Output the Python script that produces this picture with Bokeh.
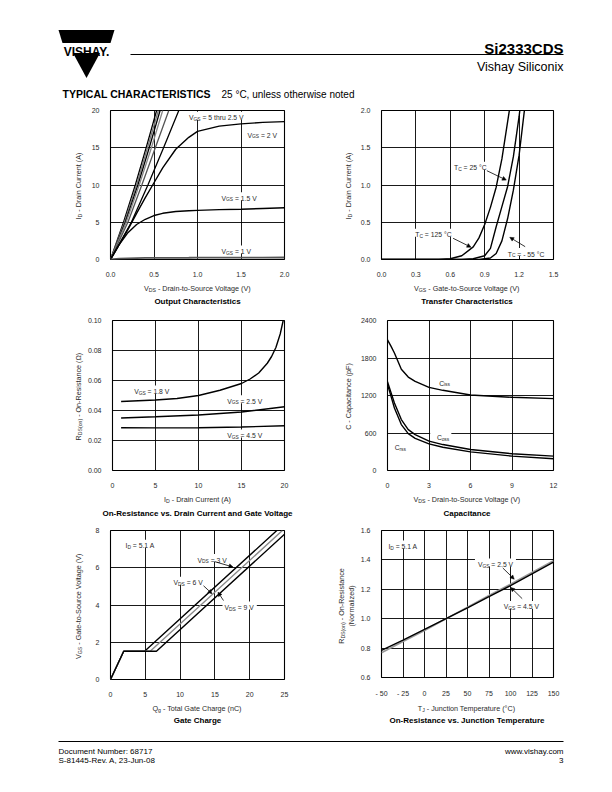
import re
from math import pi
from bokeh.plotting import figure
from bokeh.models import Range1d, Label, Arrow, NormalHead, FixedTicker, BoxAnnotation
from bokeh.layouts import column, row
from bokeh.embed import file_html
from bokeh.resources import INLINE

FONT = "Liberation Sans"
TXT = "#2a2a2a"

# ------------------------------------------------------------------ data
# 1. Output characteristics: V_DS (V) at the listed I_D (A)
oc_id_lin = [0, 5, 10, 15, 20]
oc_vds_5v0 = [0, 0.15, 0.285, 0.41, 0.53]
oc_vds_4v5 = [0, 0.16, 0.30, 0.425, 0.55]
oc_vds_4v0 = [0, 0.17, 0.315, 0.445, 0.57]
oc_vds_3v5 = [0, 0.18, 0.33, 0.47, 0.60]
oc_vds_3v0 = [0, 0.20, 0.36, 0.515, 0.67]
oc_vds_2v5 = [0, 0.24, 0.43, 0.61, 0.785]
oc_vds = [0, 0.1, 0.2, 0.3, 0.4, 0.5, 0.6, 0.75, 0.9, 1.0, 1.25, 1.5, 1.75, 2.0]
oc_id_2v0 = [0, 2.0, 4.0, 6.2, 8.3, 10.3, 12.3, 14.8, 16.4, 17.2, 17.9, 18.2, 18.4, 18.5]
oc_id_1v5 = [0, 2.0, 3.6, 4.7, 5.4, 5.9, 6.2, 6.45, 6.55, 6.6, 6.7, 6.75, 6.85, 6.95]
oc_id_1v0 = [0, 0.12, 0.16, 0.19, 0.21, 0.22, 0.225, 0.23, 0.235, 0.24, 0.25, 0.26, 0.265, 0.27]
oc_x_ticks = [0.0, 0.5, 1.0, 1.5, 2.0]
oc_x_labels = ["0.0", "0.5", "1.0", "1.5", "2.0"]
oc_y_ticks = [0, 5, 10, 15, 20]
oc_y_labels = ["0", "5", "10", "15", "20"]

# 2. Transfer characteristics: I_D (A) vs V_GS (V)
tc_vgs_125 = [0.0, 0.5, 0.6, 0.7, 0.8, 0.85, 0.9, 0.95, 1.0, 1.05, 1.1, 1.12]
tc_id_125 = [0.0, 0.0, 0.01, 0.05, 0.17, 0.29, 0.47, 0.7, 0.97, 1.35, 1.85, 2.05]
tc_vgs_25 = [0.0, 0.7, 0.8, 0.9, 0.95, 1.0, 1.05, 1.1, 1.15, 1.2, 1.21]
tc_id_25 = [0.0, 0.0, 0.01, 0.05, 0.15, 0.44, 0.71, 0.98, 1.38, 1.92, 2.05]
tc_vgs_m55 = [0.0, 0.85, 0.95, 1.0, 1.05, 1.1, 1.15, 1.2, 1.25]
tc_id_m55 = [0.0, 0.0, 0.02, 0.08, 0.25, 0.55, 0.93, 1.4, 2.05]
tc_x_ticks = [0.0, 0.3, 0.6, 0.9, 1.2, 1.5]
tc_x_labels = ["0.0", "0.3", "0.6", "0.9", "1.2", "1.5"]
tc_y_ticks = [0.0, 0.5, 1.0, 1.5, 2.0]
tc_y_labels = ["0.0", "0.5", "1.0", "1.5", "2.0"]

# 3. On-resistance vs drain current
ron_id_1v8 = [1, 3, 5, 7.5, 10, 12.5, 15, 16, 17, 18, 18.5, 19, 19.5, 19.85]
ron_1v8 = [0.046, 0.0465, 0.047, 0.048, 0.050, 0.0535, 0.058, 0.061, 0.065, 0.0715, 0.076, 0.082, 0.091, 0.1]
ron_id = [1, 5, 10, 15, 20]
ron_2v5 = [0.035, 0.0358, 0.037, 0.039, 0.0425]
ron_4v5 = [0.0285, 0.0284, 0.0285, 0.029, 0.0298]
ron_x_ticks = [0, 5, 10, 15, 20]
ron_x_labels = ["0", "5", "10", "15", "20"]
ron_y_ticks = [0.0, 0.02, 0.04, 0.06, 0.08, 0.1]
ron_y_labels = ["0.00", "0.02", "0.04", "0.06", "0.08", "0.10"]

# 4. Capacitance (pF) vs V_DS (V)
cap_vds = [0, 0.25, 0.5, 1, 1.5, 2, 3, 4, 6, 9, 12]
cap_ciss = [2090, 1990, 1880, 1620, 1495, 1425, 1330, 1283, 1208, 1171, 1150]
cap_coss = [1420, 1250, 1080, 815, 655, 575, 470, 415, 335, 268, 230]
cap_crss = [1375, 1190, 1000, 735, 590, 515, 425, 372, 298, 230, 188]
cap_x_ticks = [0, 3, 6, 9, 12]
cap_x_labels = ["0", "3", "6", "9", "12"]
cap_y_ticks = [0, 600, 1200, 1800, 2400]
cap_y_labels = ["0", "600", "1200", "1800", "2400"]

# 5. Gate charge: V_GS (V) vs Q_g (nC)
gc_qg_3v = [0, 1.9, 4.9, 23.9]
gc_vgs_3v = [0, 1.52, 1.52, 8.0]
gc_qg_6v = [0, 1.9, 5.7, 24.7]
gc_vgs_6v = [0, 1.52, 1.52, 8.0]
gc_qg_9v = [0, 1.9, 6.6, 25.0]
gc_vgs_9v = [0, 1.52, 1.52, 7.8]
gc_x_ticks = [0, 5, 10, 15, 20, 25]
gc_x_labels = ["0", "5", "10", "15", "20", "25"]
gc_y_ticks = [0, 2, 4, 6, 8]
gc_y_labels = ["0", "2", "4", "6", "8"]

# 6. Normalized on-resistance vs junction temperature
rt_tj = [-50, -25, 0, 25, 50, 75, 100, 125, 150]
rt_4v5 = [0.785, 0.855, 0.927, 1.0, 1.073, 1.15, 1.225, 1.305, 1.385]
rt_2v5 = [0.768, 0.845, 0.92, 1.0, 1.078, 1.158, 1.235, 1.315, 1.395]
rt_x_ticks = [-50, -25, 0, 25, 50, 75, 100, 125, 150]
rt_x_labels = ["- 50", "- 25", "0", "25", "50", "75", "100", "125", "150"]
rt_y_ticks = [0.6, 0.8, 1.0, 1.2, 1.4, 1.6]
rt_y_labels = ["0.6", "0.8", "1.0", "1.2", "1.4", "1.6"]

# ------------------------------------------------------------------ text helpers
W = {' ': 278, '!': 278, '(': 333, ')': 333, ',': 278, '-': 333, '.': 278, '/': 278,
     ':': 278, '=': 584, '°': 400, 'Ω': 768}
for c in "0123456789":
    W[c] = 556
W.update(dict(zip("ABCDEFGHIJKLMNOPQRSTUVWXYZ",
                  [667, 667, 722, 722, 667, 611, 778, 722, 278, 500, 667, 556, 833,
                   722, 778, 667, 778, 722, 667, 611, 722, 667, 944, 667, 667, 611])))
W.update(dict(zip("abcdefghijklmnopqrstuvwxyz",
                  [556, 556, 500, 556, 556, 278, 556, 556, 222, 222, 500, 222, 833,
                   556, 556, 556, 556, 333, 500, 278, 556, 500, 722, 500, 500, 500])))


def tw(s, size):
    return sum(W.get(c, 556) for c in s) * size / 1000.0


def to_data(S, X, Y):
    (fx0, fy0, fx1, fy1), (xa, xb), (ya, yb) = S
    return (xa + (X - fx0) / (fx1 - fx0) * (xb - xa),
            ya + (fy1 - Y) / (fy1 - fy0) * (yb - ya))


def add_text(p, S, X, Y, text, size, align="left", angle=0.0, bold=False,
             bg=False, color=TXT, pad=(1.5, 1.5)):
    toks = re.split(r"_\{([^}]*)\}", text)
    parts = [(t, i % 2 == 1) for i, t in enumerate(toks) if t]
    base = 0.358 * size
    common = dict(text_font=FONT, text_color=color, text_baseline="alphabetic",
                  angle=angle, text_font_style="bold" if bold else "normal")
    sub_k = 0.72
    widths = [tw(t, size * (sub_k if sb else 1)) for t, sb in parts]
    total = sum(widths)
    start = {"left": 0.0, "center": -total / 2, "right": -total}[align]
    if bg and not angle:
        l, b = to_data(S, X + start - pad[0], Y + base + 0.3 * size)
        r, t = to_data(S, X + start + total + pad[1], Y - base - 1.2)
        p.add_layout(BoxAnnotation(left=l, right=r, bottom=b, top=t, fill_color="white",
                                   fill_alpha=1.0, line_alpha=0.0))
    if len(parts) == 1 and not parts[0][1]:
        if angle:
            x, y = to_data(S, X + base, Y)
        else:
            x, y = to_data(S, X, Y + base)
        p.add_layout(Label(x=x, y=y, text=text, text_align=align,
                           text_font_size=f"{size}px", **common))
        return
    pos = start
    for (t, sb), w in zip(parts, widths):
        fs = size * sub_k if sb else size
        lead = len(t) - len(t.lstrip(" "))
        st = t.strip(" ")
        if st:
            off = pos + tw(" " * lead, fs)
            drop = 0.24 * size if sb else 0.0
            if angle:
                x, y = to_data(S, X + base + drop, Y - off)
            else:
                x, y = to_data(S, X + off, Y + base + drop)
            p.add_layout(Label(x=x, y=y, text=st, text_align="left",
                               text_font_size=f"{fs:.2f}px", **common))
        pos += w


def add_arrow(p, S, X0, Y0, X1, Y1):
    x0, y0 = to_data(S, X0, Y0)
    x1, y1 = to_data(S, X1, Y1)
    p.add_layout(Arrow(end=NormalHead(size=4, fill_color="black", line_color="black",
                                      line_width=0.5),
                       x_start=x0, y_start=y0, x_end=x1, y_end=y1,
                       line_color="black", line_width=0.8))


def block_fig(x0, y0, x1, y1):
    """Plain drawing area whose data coordinates are page pixels."""
    p = figure(width=x1 - x0, height=y1 - y0, x_range=Range1d(x0, x1), y_range=Range1d(y1, y0),
               output_backend="svg", toolbar_location=None, x_axis_type=None,
               y_axis_type=None, min_border=0, frame_align=False)
    p.outline_line_color = None
    p.background_fill_color = "white"
    p.border_fill_color = "white"
    return p, ((x0, y0, x1, y1), (x0, x1), (y1, y0))


def make_chart(box, frame, xr, yr, xt, xl, yt, yl):
    bx0, by0, bx1, by1 = box
    fx0, fy0, fx1, fy1 = frame
    p = figure(width=bx1 - bx0, height=by1 - by0, x_range=Range1d(*xr), y_range=Range1d(*yr),
               output_backend="svg", toolbar_location=None, frame_align=False,
               min_border_left=fx0 - bx0, min_border_right=bx1 - fx1,
               min_border_top=fy0 - by0, min_border_bottom=by1 - fy1)
    p.background_fill_color = "white"
    p.border_fill_color = "white"
    p.outline_line_color = "black"
    p.outline_line_width = 1.1
    p.xaxis.ticker = FixedTicker(ticks=xt)
    p.yaxis.ticker = FixedTicker(ticks=yt)
    p.xgrid.ticker = FixedTicker(ticks=xt)
    p.ygrid.ticker = FixedTicker(ticks=yt)
    p.xaxis.major_label_overrides = {t: l for t, l in zip(xt, xl)}
    p.yaxis.major_label_overrides = {t: l for t, l in zip(yt, yl)}
    for ax in p.axis:
        ax.major_tick_line_color = None
        ax.minor_tick_line_color = None
        ax.axis_line_color = None
        ax.major_label_text_font = FONT
        ax.major_label_text_font_size = "7px"
        ax.major_label_text_color = TXT
    p.xaxis.major_label_standoff = 6
    p.yaxis.major_label_standoff = 5
    p.grid.grid_line_color = "black"
    p.grid.grid_line_width = 0.9
    return p, (frame, xr, yr)


ROW_TOPS = [100, 310, 520]
FRAME_H = [151, 152, 151]
CHART_H = [179, 180, 179]


def chart_block(side, r, xr, yr, xt, xl, yt, yl):
    top = ROW_TOPS[r]
    if side == "L":
        ax0, cx0, cx1, fx0, fx1 = 0, 84, 306, 110, 284
    else:
        ax0, cx0, cx1, fx0, fx1 = 306, 357, 612, 380, 553
    fy0 = top + 10
    fy1 = fy0 + FRAME_H[r]
    ylab = block_fig(ax0, top, cx0, top + 210)
    chart = make_chart((cx0, top, cx1, top + CHART_H[r]), (fx0, fy0, fx1, fy1),
                       xr, yr, xt, xl, yt, yl)
    cap = block_fig(cx0, top + CHART_H[r], cx1, top + 210)
    lay = row(ylab[0], column(chart[0], cap[0]))
    return lay, chart, ylab, cap


CURVE = dict(line_color="black", line_width=1.4)

# ------------------------------------------------------------------ header
hdr, HS = block_fig(0, 0, 612, 100)
hdr.patch([58, 114, 110, 62], [29.5, 29.5, 42.5, 42.5], fill_color="black", line_color=None)
hdr.patch([72.5, 99.5, 86], [52.5, 52.5, 77.5], fill_color="black", line_color=None)
add_text(hdr, HS, 86, 47.5, "VISHAY.", 12, "center", bold=True, color="black")
hdr.line([130, 563], [54, 54], line_color="black", line_width=1.2)
add_text(hdr, HS, 563, 42.5, "Si2333CDS", 15, "right", bold=True, color="black")
add_text(hdr, HS, 563, 62.5, "Vishay Siliconix", 12.5, "right", color="black")
add_text(hdr, HS, 62, 90, "TYPICAL CHARACTERISTICS", 10.5, "left", bold=True, color="black")
add_text(hdr, HS, 221, 90, "25 °C, unless otherwise noted", 10, "left", color="black")

# ------------------------------------------------------------------ chart 1
L1, (p1, S1), (y1p, Y1S), (c1p, C1S) = chart_block(
    "L", 0, (0, 2), (0, 20), oc_x_ticks, oc_x_labels, oc_y_ticks, oc_y_labels)
for vds, col in [(oc_vds_5v0, "black"), (oc_vds_4v5, "#777777"), (oc_vds_4v0, "black"),
                 (oc_vds_3v5, "#888888"), (oc_vds_3v0, "#555555"), (oc_vds_2v5, "black")]:
    p1.line(vds, oc_id_lin, line_color=col, line_width=1.3)
p1.line(oc_vds, oc_id_2v0, **CURVE)
p1.line(oc_vds, oc_id_1v5, **CURVE)
p1.line(oc_vds, oc_id_1v0, line_color="#555555", line_width=1.8)
add_text(y1p, Y1S, 75, 185.5, "I_{D} - Drain Current (A)", 7.2, "center", angle=pi / 2)
add_text(c1p, C1S, 197, 285, "V_{DS} - Drain-to-Source Voltage (V)", 7.2, "center")
add_text(c1p, C1S, 197, 298, "Output Characteristics", 8, "center", bold=True, color="black")
add_text(p1, S1, 188.5, 115, "V_{GS} = 5 thru 2.5 V", 6.8, bg=True)
add_text(p1, S1, 247, 132.5, "V_{GS} = 2 V", 6.8, bg=True)
add_text(p1, S1, 221, 196.5, "V_{GS} = 1.5 V", 6.8, bg=True)
add_text(p1, S1, 221, 250.5, "V_{GS} = 1 V", 6.8, bg=True)

# ------------------------------------------------------------------ chart 2
L2, (p2, S2), (y2p, Y2S), (c2p, C2S) = chart_block(
    "R", 0, (0, 1.5), (0, 2), tc_x_ticks, tc_x_labels, tc_y_ticks, tc_y_labels)
p2.line(tc_vgs_125, tc_id_125, **CURVE)
p2.line(tc_vgs_25, tc_id_25, **CURVE)
p2.line(tc_vgs_m55, tc_id_m55, **CURVE)
add_text(y2p, Y2S, 345, 185.5, "I_{D} - Drain Current (A)", 7.2, "center", angle=pi / 2)
add_text(c2p, C2S, 466.5, 285, "V_{GS} - Gate-to-Source Voltage (V)", 7.2, "center")
add_text(c2p, C2S, 466.5, 298, "Transfer Characteristics", 8, "center", bold=True, color="black")
add_text(p2, S2, 453, 165.5, "T_{C} = 25 °C", 6.8, bg=True)
add_arrow(p2, S2, 486, 171, 505.5, 180.5)
add_text(p2, S2, 414, 233.5, "T_{C} = 125 °C", 6.8, bg=True)
add_arrow(p2, S2, 452, 239.5, 470, 248.5)
add_text(p2, S2, 507, 253, "T_{C} = - 55 °C", 6.8, bg=True)
add_arrow(p2, S2, 524.5, 248, 509, 238.5)

# ------------------------------------------------------------------ chart 3
L3, (p3, S3), (y3p, Y3S), (c3p, C3S) = chart_block(
    "L", 1, (0, 20), (0, 0.1), ron_x_ticks, ron_x_labels, ron_y_ticks, ron_y_labels)
p3.line(ron_id_1v8, ron_1v8, **CURVE)
p3.line(ron_id, ron_2v5, **CURVE)
p3.line(ron_id, ron_4v5, **CURVE)
add_text(y3p, Y3S, 75, 396, "R_{DS(on)} - On-Resistance (Ω)", 7.2, "center", angle=pi / 2)
add_text(c3p, C3S, 197, 496.5, "I_{D} - Drain Current (A)", 7.2, "center")
add_text(c3p, C3S, 197, 510.5, "On-Resistance vs. Drain Current and Gate Voltage", 8, "center",
         bold=True, color="black")
add_text(p3, S3, 132, 389.5, "V_{GS} = 1.8 V", 6.8, bg=True)
add_text(p3, S3, 226, 399.5, "V_{GS} = 2.5 V", 6.8, bg=True)
add_text(p3, S3, 226, 434, "V_{GS} = 4.5 V", 6.8, bg=True)

# ------------------------------------------------------------------ chart 4
L4, (p4, S4), (y4p, Y4S), (c4p, C4S) = chart_block(
    "R", 1, (0, 12), (0, 2400), cap_x_ticks, cap_x_labels, cap_y_ticks, cap_y_labels)
p4.line(cap_vds, cap_ciss, **CURVE)
p4.line(cap_vds, cap_coss, **CURVE)
p4.line(cap_vds, cap_crss, **CURVE)
add_text(y4p, Y4S, 345, 396, "C - Capacitance (pF)", 7.2, "center", angle=pi / 2)
add_text(c4p, C4S, 466.5, 496.5, "V_{DS} - Drain-to-Source Voltage (V)", 7.2, "center")
add_text(c4p, C4S, 466.5, 510.5, "Capacitance", 8, "center", bold=True, color="black")
add_text(p4, S4, 434, 381, "C_{iss}", 6.8, bg=True)
add_text(p4, S4, 431.5, 436.3, "C_{oss}", 6.8, bg=True, pad=(7, 2.5))
add_text(p4, S4, 387.5, 446.5, "C_{rss}", 6.8, bg=True)

# ------------------------------------------------------------------ chart 5
L5, (p5, S5), (y5p, Y5S), (c5p, C5S) = chart_block(
    "L", 2, (0, 25), (0, 8), gc_x_ticks, gc_x_labels, gc_y_ticks, gc_y_labels)
p5.line(gc_qg_3v, gc_vgs_3v, **CURVE)
p5.line(gc_qg_6v, gc_vgs_6v, line_color="#8a8a8a", line_width=1.4)
p5.line(gc_qg_9v, gc_vgs_9v, **CURVE)
add_text(y5p, Y5S, 75, 605.5, "V_{GS} - Gate-to-Source Voltage (V)", 7.2, "center", angle=pi / 2)
add_text(c5p, C5S, 197, 705, "Q_{g} - Total Gate Charge (nC)", 7.2, "center")
add_text(c5p, C5S, 197, 717.5, "Gate Charge", 8, "center", bold=True, color="black")
add_text(p5, S5, 125, 543, "I_{D} = 5.1 A", 6.8, bg=True)
add_text(p5, S5, 197, 557.5, "V_{DS} = 3 V", 6.8, bg=True)
add_arrow(p5, S5, 214, 561.5, 232.5, 567)
add_text(p5, S5, 173, 580.5, "V_{DS} = 6 V", 6.8, bg=True)
add_arrow(p5, S5, 203, 586, 211.5, 594)
add_text(p5, S5, 224, 605.5, "V_{DS} = 9 V", 6.8, bg=True, pad=(2, 3))
add_arrow(p5, S5, 223, 601, 217.5, 592.5)

# ------------------------------------------------------------------ chart 6
L6, (p6, S6), (y6p, Y6S), (c6p, C6S) = chart_block(
    "R", 2, (-50, 150), (0.6, 1.6), rt_x_ticks, rt_x_labels, rt_y_ticks, rt_y_labels)
p6.line(rt_tj, rt_2v5, line_color="#9a9a9a", line_width=1.7)
p6.line(rt_tj, rt_4v5, **CURVE)
add_text(y6p, Y6S, 338.5, 605.5, "R_{DS(on)} - On-Resistance", 7.2, "center", angle=pi / 2)
add_text(y6p, Y6S, 348.5, 605.5, "(Normalized)", 7.2, "center", angle=pi / 2)
add_text(c6p, C6S, 466.5, 705, "T_{J} - Junction Temperature (°C)", 7.2, "center")
add_text(c6p, C6S, 466.5, 717.5, "On-Resistance vs. Junction Temperature", 8, "center",
         bold=True, color="black")
add_text(p6, S6, 387, 544, "I_{D} = 5.1 A", 6.8, bg=True)
add_text(p6, S6, 477, 562.5, "V_{GS} = 2.5 V", 6.8, bg=True, pad=(3, 3))
add_arrow(p6, S6, 502, 568.5, 513.5, 580)
add_text(p6, S6, 503, 606, "V_{GS} = 4.5 V", 6.8, bg=True)
add_arrow(p6, S6, 521.5, 600, 510, 588.5)

# ------------------------------------------------------------------ footer
ftr, FS = block_fig(0, 730, 612, 790)
ftr.line([58, 563], [741, 741], line_color="black", line_width=1.0)
add_text(ftr, FS, 58, 748.5, "Document Number: 68717", 8, "left", color="black")
add_text(ftr, FS, 58, 757.5, "S-81445-Rev. A, 23-Jun-08", 8, "left", color="black")
add_text(ftr, FS, 563, 748.5, "www.vishay.com", 8, "right", color="black")
add_text(ftr, FS, 563, 757.5, "3", 8, "right", color="black")

layout = column(hdr, row(L1, L2), row(L3, L4), row(L5, L6), ftr)
open("out.html", "w").write(file_html(layout, INLINE))
